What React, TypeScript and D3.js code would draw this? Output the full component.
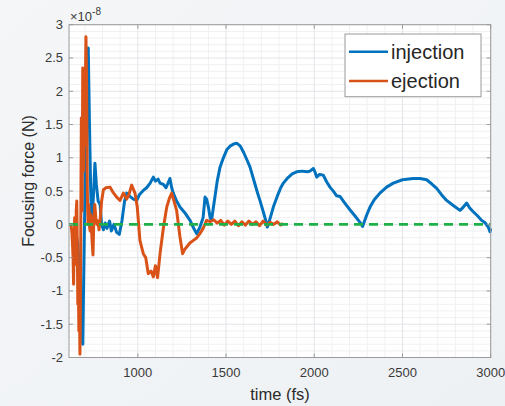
import React from "react";
import * as d3 from "d3";

const injT = [640,660,675,688,695,700,705,712,719,726,733,739,748,757,765,775,786,795,805,815,825,840,850,865,880,895,910,925,937,955,975,994,1010,1031,1050,1070,1088,1100,1115,1126,1145,1160,1182,1192,1201,1220,1239,1265,1296,1315,1334,1352,1370,1381,1390,1400,1410,1418,1428,1437,1450,1466,1485,1504,1525,1545,1560,1580,1600,1620,1636,1660,1680,1692,1710,1725,1734,1742,1755,1768,1790,1810,1825,1850,1875,1900,1930,1960,1976,1995,2005,2014,2030,2051,2070,2089,2108,2127,2146,2170,2202,2230,2259,2274,2285,2300,2316,2340,2372,2410,2448,2500,2561,2600,2637,2665,2694,2720,2750,2790,2826,2845,2864,2880,2901,2925,2949,2970,2986,2996,3000];
const injV = [0,-0.3,-1.0,-1.8,-0.5,0.4,1.5,2.3,2.65,1.5,0.5,0.0,0.4,0.92,0.6,0.35,0.3,0.0,-0.08,0.02,-0.06,0.05,-0.1,0.0,-0.12,-0.15,0.05,0.35,0.47,0.42,0.38,0.36,0.45,0.51,0.55,0.62,0.71,0.65,0.68,0.62,0.6,0.55,0.69,0.55,0.47,0.35,0.26,0.18,0.06,-0.05,-0.14,-0.04,0.1,0.41,0.38,0.26,0.1,0.06,0.25,0.41,0.65,0.86,1.0,1.12,1.18,1.21,1.22,1.18,1.08,0.96,0.86,0.64,0.46,0.36,0.2,0.06,-0.04,0.02,0.14,0.26,0.42,0.55,0.62,0.7,0.76,0.79,0.8,0.79,0.8,0.84,0.78,0.71,0.75,0.74,0.64,0.56,0.5,0.43,0.42,0.33,0.22,0.13,0.03,-0.03,0.05,0.16,0.26,0.37,0.47,0.56,0.62,0.67,0.69,0.69,0.67,0.61,0.54,0.45,0.36,0.28,0.21,0.26,0.32,0.25,0.19,0.13,0.06,0.02,-0.04,-0.11,-0.06];

const ejT = [620,626,630,633,636,639,642,645,648,651,654,657,660,663,666,669,672,674,676,678,680,682,684,686,688,690,692,694,697,699,701,704,706,708,710,712,714,716,718,721,724,727,730,733,736,739,742,746,750,756,762,768,774,780,786,795,805,820,842,860,880,899,918,937,950,965,984,997,1012,1031,1045,1059,1075,1088,1100,1112,1126,1145,1164,1180,1192,1205,1220,1239,1254,1265,1277,1295,1315,1335,1352,1370,1390,1410,1430,1450,1470,1490,1510,1530,1550,1570,1590,1610,1630,1650,1670,1690,1710,1730,1750,1770,1790,1810,1823];
const ejV = [0.0,-0.1,-0.3,-0.5,-0.9,-0.2,0.1,-0.4,-0.6,0.2,0.35,-0.3,-1.2,-0.9,-1.6,-1.2,-1.95,-1.5,-0.5,0.6,1.6,0.9,0.2,1.2,2.35,1.7,0.8,1.6,2.3,1.9,1.2,2.4,2.82,2.5,2.0,1.2,0.5,0.2,0.0,0.3,0.2,-0.05,-0.1,0.15,0.1,-0.15,-0.3,-0.46,0.0,0.3,0.1,0.0,0.05,-0.08,0.05,0.35,0.52,0.55,0.56,0.48,0.41,0.36,0.47,0.38,0.45,0.59,0.47,0.26,-0.24,-0.44,-0.5,-0.74,-0.7,-0.79,-0.62,-0.8,-0.44,-0.05,0.26,0.4,0.47,0.35,0.21,-0.19,-0.44,-0.38,-0.34,-0.28,-0.24,-0.2,-0.14,-0.06,0.06,0.04,0.07,0.02,0.06,-0.01,0.05,0.0,0.05,-0.02,0.04,-0.01,0.05,0.0,0.04,-0.02,0.05,-0.01,0.03,0.0,0.04,-0.01,0.02];

const xTicks = [1000, 1500, 2000, 2500, 3000];
const yTicks = [-2, -1.5, -1, -0.5, 0, 0.5, 1, 1.5, 2, 2.5, 3];
const seriesNames = ["injection", "ejection"];

const W = 505, H = 406;
const L = 69, R = 490.7, T = 24.7, B = 357.5;
const FONT = "'Liberation Sans', Arial, sans-serif";

export default function App() {
  const x = d3.scaleLinear().domain([610, 3000]).range([L, R]);
  const y = d3.scaleLinear().domain([-2, 3]).range([B, T]);
  const line = d3.line<[number, number]>().x(d => x(d[0])).y(d => y(d[1]));
  const inj = injT.map((t, i) => [t, injV[i]] as [number, number]);
  const ej = ejT.map((t, i) => [t, ejV[i]] as [number, number]);
  const minorX = d3.range(700, 3000, 100).filter(v => v % 500 !== 0);
  const minorY = d3.range(-2, 3.001, 0.1).map(v => +v.toFixed(1)).filter(v => Math.abs(v * 2 - Math.round(v * 2)) > 1e-6);

  return (
    <svg width={W} height={H} style={{ position: "absolute", left: 0, top: 0 }}>
      <defs>
        <linearGradient id="bg" x1="0" y1="0" x2="1" y2="1">
          <stop offset="0" stopColor="#f4f6f8" />
          <stop offset="1" stopColor="#eef1f4" />
        </linearGradient>
      </defs>
      <rect x={0} y={0} width={W} height={H} fill="url(#bg)" />
      <rect x={L} y={T} width={R - L} height={B - T} fill="#ffffff" />
      {minorX.map(v => (
        <line key={"mx" + v} x1={x(v)} x2={x(v)} y1={T} y2={B} stroke="#f0f0f2" strokeWidth={1} />
      ))}
      {minorY.map(v => (
        <line key={"my" + v} x1={L} x2={R} y1={y(v)} y2={y(v)} stroke="#f0f0f2" strokeWidth={1} />
      ))}
      {xTicks.map(v => (
        <line key={"gx" + v} x1={x(v)} x2={x(v)} y1={T} y2={B} stroke="#e2e4e8" strokeWidth={1} />
      ))}
      {yTicks.map(v => (
        <line key={"gy" + v} x1={L} x2={R} y1={y(v)} y2={y(v)} stroke="#e2e4e8" strokeWidth={1} />
      ))}
      <path d={line(inj) || ""} fill="none" stroke="#0072BD" strokeWidth={3} strokeLinejoin="round" />
      <path d={line(ej) || ""} fill="none" stroke="#D95319" strokeWidth={3} strokeLinejoin="round" />
      <line x1={x(610)} x2={x(3000)} y1={y(0)} y2={y(0)} stroke="#1fb04a" strokeWidth={2.6} strokeDasharray="9,6" />
      <rect x={L} y={T} width={R - L} height={B - T} fill="none" stroke="#9a9a9a" strokeWidth={1} />
      {xTicks.map(v => (
        <g key={"tx" + v}>
          <line x1={x(v)} x2={x(v)} y1={B} y2={B - 4} stroke="#9a9a9a" />
          <line x1={x(v)} x2={x(v)} y1={T} y2={T + 4} stroke="#9a9a9a" />
          <text x={x(v)} y={377} textAnchor="middle" fontFamily={FONT} fontSize={13} fill="#3a3a3a">{v}</text>
        </g>
      ))}
      {yTicks.map(v => (
        <g key={"ty" + v}>
          <line x1={L} x2={L + 4} y1={y(v)} y2={y(v)} stroke="#9a9a9a" />
          <line x1={R} x2={R - 4} y1={y(v)} y2={y(v)} stroke="#9a9a9a" />
          <text x={63} y={y(v) + 4.5} textAnchor="end" fontFamily={FONT} fontSize={13} fill="#3a3a3a">{v}</text>
        </g>
      ))}
      <text x={70} y={21} fontFamily={FONT} fontSize={13} fill="#3a3a3a">
        ×10<tspan dy={-6} fontSize={10}>-8</tspan>
      </text>
      <text transform={`translate(34,181) rotate(-90)`} textAnchor="middle" fontFamily={FONT} fontSize={16} fill="#2a2a2a">Focusing force (N)</text>
      <text x={280} y={400} textAnchor="middle" fontFamily={FONT} fontSize={16.5} fill="#2a2a2a">time (fs)</text>
      <g>
        <rect x={345} y={34} width={136} height={62.7} fill="#ffffff" stroke="#9a9a9a" strokeWidth={1} />
        {seriesNames.map((n, i) => (
          <g key={n}>
            <line x1={349} x2={388} y1={51.7 + i * 29.3} y2={51.7 + i * 29.3} stroke={i === 0 ? "#0072BD" : "#D95319"} strokeWidth={2.6} />
            <text x={391} y={58.5 + i * 29.3} fontFamily={FONT} fontSize={20} fill="#262626">{n}</text>
          </g>
        ))}
      </g>
    </svg>
  );
}
